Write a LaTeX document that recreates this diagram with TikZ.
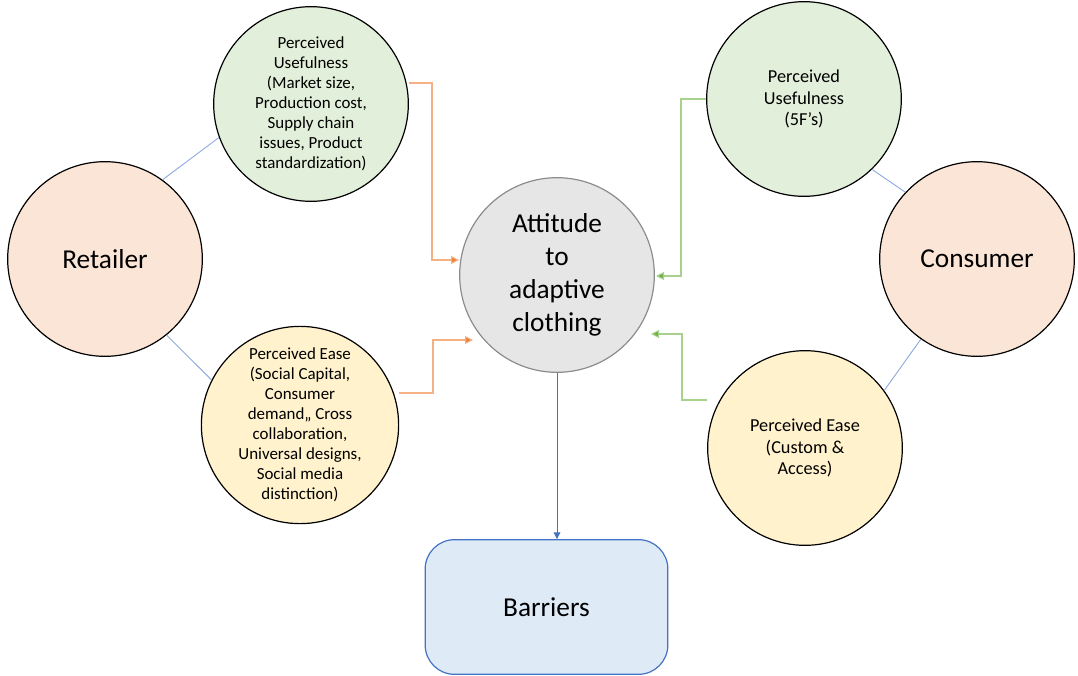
\documentclass[tikz,border=0pt]{standalone}
\usepackage{fontspec}
\setmainfont{Carlito}
\usetikzlibrary{arrows.meta}
\definecolor{cgreen}{HTML}{E2EFDA}
\definecolor{cpeach}{HTML}{FBE5D6}
\definecolor{cyellow}{HTML}{FFF2CC}
\definecolor{cgray}{HTML}{E7E6E6}
\definecolor{cgrayline}{HTML}{8C8C8C}
\definecolor{cblue}{HTML}{DEEBF7}
\definecolor{cblueline}{HTML}{4472C4}
\definecolor{clightblue}{HTML}{8FAADC}
\definecolor{corange}{HTML}{ED7D31}
\definecolor{clorange}{HTML}{F4B183}
\definecolor{cgreenline}{HTML}{70AD47}
\definecolor{clgreen}{HTML}{A9D18E}
\tikzset{
  circ/.style={circle, draw=black, line width=0.9pt, minimum size=146pt, inner sep=0pt, align=center},
  small/.style={font=\fontsize{12.7}{15}\selectfont},
  mid/.style={font=\fontsize{13.7}{16.3}\selectfont},
  big/.style={font=\fontsize{20.5}{24}\selectfont},
  link/.style={draw=clightblue, line width=0.7pt},
  orangearrow/.style={draw=clorange, line width=0.8pt, -{Triangle[length=6pt,width=6pt,fill=corange]}},
  greenarrow/.style={draw=clgreen, line width=0.8pt, -{Triangle[length=6pt,width=6pt,fill=cgreenline]}},
  bluearrow/.style={draw=cblueline, line width=0.7pt, -{Triangle[length=5pt,width=5pt]}}
}
\begin{document}
\begin{tikzpicture}[x=0.75pt,y=-0.75pt]
\useasboundingbox (0,0) rectangle (1078,675);
% nodes
\node[circ, fill=cpeach, big] (ret) at (105,259) {Retailer};
\node[circ, fill=cgreen, small] (pul) at (311,104) {Perceived\\Usefulness\\(Market size,\\Production cost,\\Supply chain\\issues, Product\\standardization)};
\node[circ, fill=cyellow, small] (pel) at (300,425) {Perceived Ease\\(Social Capital,\\Consumer\\demand,, Cross\\collaboration,\\Universal designs,\\Social media\\distinction)};
\node[circ, fill=cgray, draw=cgrayline, font=\fontsize{20.5}{24.8}\selectfont] (att) at (557,275) {Attitude\\to\\adaptive\\clothing};
\node[circ, fill=cgreen, mid] (pur) at (804,99) {Perceived\\Usefulness\\(5F’s)};
\node[circ, fill=cpeach, big] (con) at (977,259) {Consumer};
\node[circ, fill=cyellow, mid] (per) at (805,448) {Perceived Ease\\(Custom \&\\Access)};
\node[draw=cblueline, fill=cblue, line width=0.9pt, rounded corners=22pt, minimum width=182pt, minimum height=101pt, big] (bar) at (546.5,607) {Barriers};
% plain links
\draw[link] (ret.54) -- (pul.200);
\draw[link] (ret.-51) -- (pel.153);
\draw[link] (pur.-46) -- (con.137);
\draw[link] (con.-125) -- (per.36);
% arrows
\coordinate (o1) at (432,83);
\coordinate (o2) at (433,393);
\coordinate (g1) at (681,99);
\coordinate (g2) at (682,400);
\draw[orangearrow] (pul.east |- o1) -- (o1) |- (459,260);
\draw[orangearrow] (pel.east |- o2) -- (o2) |- (473,340);
\draw[greenarrow] (pur.west |- g1) -- (g1) |- (656,276);
\draw[greenarrow] (per.west |- g2) -- (g2) |- (651,334);
\draw[bluearrow] (att.south) -- (bar.north -| att.south);
\end{tikzpicture}
\end{document}
